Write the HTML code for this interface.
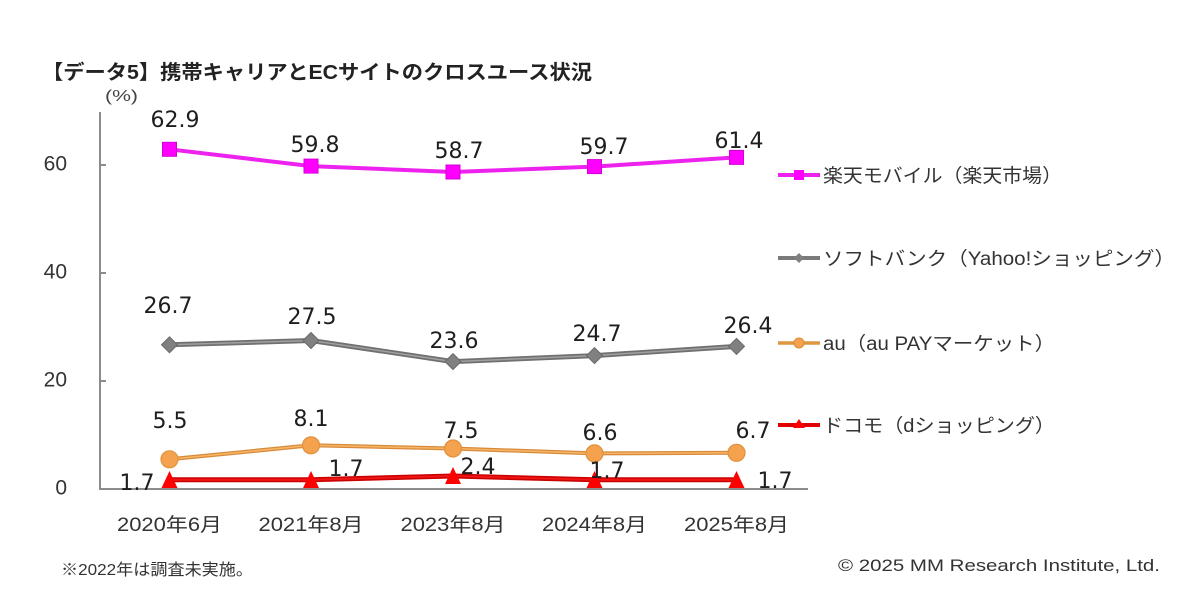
<!DOCTYPE html>
<html>
<head>
<meta charset="utf-8">
<style>
  html, body { margin:0; padding:0; background:#ffffff; }
  body { width:1200px; height:608px; overflow:hidden; }
  svg { display:block; }
</style>
</head>
<body>
<svg width="1200" height="608" viewBox="0 0 1200 608" xmlns="http://www.w3.org/2000/svg">
  <rect x="0" y="0" width="1200" height="608" fill="#ffffff"/>

  <!-- Title -->
  <text x="42" y="79" font-family="'Liberation Sans','Noto Sans CJK JP',sans-serif" font-size="20" font-weight="bold" fill="#222" textLength="550" lengthAdjust="spacingAndGlyphs">【データ5】携帯キャリアとECサイトのクロスユース状況</text>

  <!-- (%) -->
  <text x="105" y="101" font-family="'Liberation Sans','Noto Sans CJK JP',sans-serif" font-size="16" fill="#444" textLength="33" lengthAdjust="spacingAndGlyphs">(%)</text>

  <!-- Axes -->
  <line x1="100" y1="112" x2="100" y2="490" stroke="#8c8c8c" stroke-width="2"/>
  <line x1="99" y1="489" x2="808" y2="489" stroke="#8c8c8c" stroke-width="2"/>
  <line x1="100" y1="165" x2="106" y2="165" stroke="#8c8c8c" stroke-width="2"/>
  <line x1="100" y1="273" x2="106" y2="273" stroke="#8c8c8c" stroke-width="2"/>
  <line x1="100" y1="381" x2="106" y2="381" stroke="#8c8c8c" stroke-width="2"/>

  <!-- Y labels -->
  <g font-family="'Liberation Sans',sans-serif" font-size="21" fill="#333" text-anchor="end">
    <text x="67" y="170.5">60</text>
    <text x="67" y="278.5">40</text>
    <text x="67" y="386.5">20</text>
    <text x="67" y="494.5">0</text>
  </g>

  <!-- X labels -->
  <g font-family="'Liberation Sans','Noto Sans CJK JP',sans-serif" font-size="19" fill="#333" text-anchor="middle">
    <text x="169.5" y="531" textLength="105" lengthAdjust="spacingAndGlyphs">2020年6月</text>
    <text x="311" y="531" textLength="105" lengthAdjust="spacingAndGlyphs">2021年8月</text>
    <text x="453" y="531" textLength="105" lengthAdjust="spacingAndGlyphs">2023年8月</text>
    <text x="594.5" y="531" textLength="105" lengthAdjust="spacingAndGlyphs">2024年8月</text>
    <text x="736.5" y="531" textLength="105" lengthAdjust="spacingAndGlyphs">2025年8月</text>
  </g>

  <!-- Gray series (SoftBank) -->
  <polyline points="169.5,344.8 311,340.5 453,361.6 594.5,355.6 736.5,346.4" fill="none" stroke="#707070" stroke-width="5" stroke-linejoin="round"/>
  <polyline points="169.5,344.8 311,340.5 453,361.6 594.5,355.6 736.5,346.4" fill="none" stroke="#a0a0a0" stroke-width="1.5" stroke-linejoin="round"/>
  <g fill="#808080" stroke="#6a6a6a" stroke-width="1">
    <polygon points="169.5,336.8 177.5,344.8 169.5,352.8 161.5,344.8"/>
    <polygon points="311,332.5 319,340.5 311,348.5 303,340.5"/>
    <polygon points="453,353.6 461,361.6 453,369.6 445,361.6"/>
    <polygon points="594.5,347.6 602.5,355.6 594.5,363.6 586.5,355.6"/>
    <polygon points="736.5,338.4 744.5,346.4 736.5,354.4 728.5,346.4"/>
  </g>

  <!-- Orange series (au) -->
  <polyline points="169.5,459.3 311,445.3 453,448.5 594.5,453.4 736.5,452.8" fill="none" stroke="#d68a3a" stroke-width="4" stroke-linejoin="round"/>
  <polyline points="169.5,459.3 311,445.3 453,448.5 594.5,453.4 736.5,452.8" fill="none" stroke="#f8b566" stroke-width="1.5" stroke-linejoin="round"/>
  <g fill="#f4a24e" stroke="#e0913c" stroke-width="1.2">
    <circle cx="169.5" cy="459.3" r="8.5"/>
    <circle cx="311" cy="445.3" r="8.5"/>
    <circle cx="453" cy="448.5" r="8.5"/>
    <circle cx="594.5" cy="453.4" r="8.5"/>
    <circle cx="736.5" cy="452.8" r="8.5"/>
  </g>

  <!-- Red series (docomo) -->
  <polyline points="169.5,479.8 311,479.8 453,476 594.5,479.8 736.5,479.8" fill="none" stroke="#c80000" stroke-width="5" stroke-linejoin="round"/>
  <polyline points="169.5,479.8 311,479.8 453,476 594.5,479.8 736.5,479.8" fill="none" stroke="#f01515" stroke-width="2" stroke-linejoin="round"/>
  <g fill="#ff0000">
    <polygon points="169.5,471 177.5,488 161.5,488"/>
    <polygon points="311,471 319,488 303,488"/>
    <polygon points="453,467 461,484 445,484"/>
    <polygon points="594.5,471 602.5,488 586.5,488"/>
    <polygon points="736.5,471 744.5,488 728.5,488"/>
  </g>

  <!-- Magenta series (Rakuten) -->
  <polyline points="169.5,149.3 311,166.1 453,172 594.5,166.6 736.5,157.4" fill="none" stroke="#ee22ee" stroke-width="4" stroke-linejoin="round"/>
  <g fill="#ff00ff" stroke="#d400d4" stroke-width="1">
    <rect x="162.5" y="142.3" width="14" height="14"/>
    <rect x="304" y="159.1" width="14" height="14"/>
    <rect x="446" y="165" width="14" height="14"/>
    <rect x="587.5" y="159.6" width="14" height="14"/>
    <rect x="729.5" y="150.4" width="14" height="14"/>
  </g>

  <!-- Data labels -->
  <g font-family="'DejaVu Sans',sans-serif" font-size="22" fill="#1e1e1e" text-anchor="middle">
    <text x="175" y="127">62.9</text>
    <text x="315" y="152">59.8</text>
    <text x="459" y="158">58.7</text>
    <text x="604" y="154">59.7</text>
    <text x="739" y="148">61.4</text>

    <text x="168" y="313">26.7</text>
    <text x="312" y="324">27.5</text>
    <text x="454" y="348">23.6</text>
    <text x="597" y="341">24.7</text>
    <text x="748" y="333">26.4</text>

    <text x="170" y="428">5.5</text>
    <text x="311" y="426">8.1</text>
    <text x="461" y="438">7.5</text>
    <text x="600" y="440">6.6</text>
    <text x="753" y="438">6.7</text>

    <text x="137" y="490">1.7</text>
    <text x="346" y="476">1.7</text>
    <text x="478" y="474">2.4</text>
    <text x="607" y="478">1.7</text>
    <text x="775" y="488">1.7</text>
  </g>

  <!-- Legend -->
  <g>
    <line x1="778" y1="175" x2="820" y2="175" stroke="#ee22ee" stroke-width="4"/>
    <rect x="794" y="170" width="10" height="10" fill="#ff00ff"/>
    <text x="823" y="182" font-family="'Liberation Sans','Noto Sans CJK JP',sans-serif" font-size="19" fill="#333" textLength="239" lengthAdjust="spacingAndGlyphs">楽天モバイル（楽天市場）</text>

    <line x1="778" y1="258" x2="820" y2="258" stroke="#7a7a7a" stroke-width="4"/>
    <polygon points="799,253 804,258 799,263 794,258" fill="#808080"/>
    <text x="823" y="265" font-family="'Liberation Sans','Noto Sans CJK JP',sans-serif" font-size="19" fill="#333" textLength="352" lengthAdjust="spacingAndGlyphs">ソフトバンク（Yahoo!ショッピング）</text>

    <line x1="778" y1="343" x2="820" y2="343" stroke="#e0953f" stroke-width="3.5"/>
    <circle cx="799" cy="343" r="5" fill="#f4a24e" stroke="#e08a30" stroke-width="1"/>
    <text x="823" y="350" font-family="'Liberation Sans','Noto Sans CJK JP',sans-serif" font-size="19" fill="#333" textLength="232" lengthAdjust="spacingAndGlyphs">au（au PAYマーケット）</text>

    <line x1="778" y1="425" x2="820" y2="425" stroke="#e00000" stroke-width="4"/>
    <polygon points="799,419 805,428 793,428" fill="#ff0000"/>
    <text x="823" y="432" font-family="'Liberation Sans','Noto Sans CJK JP',sans-serif" font-size="19" fill="#333" textLength="232" lengthAdjust="spacingAndGlyphs">ドコモ（dショッピング）</text>
  </g>

  <!-- Footnote -->
  <text x="61" y="575" font-family="'Liberation Sans','Noto Sans CJK JP',sans-serif" font-size="16" fill="#333" textLength="192" lengthAdjust="spacingAndGlyphs">※2022年は調査未実施。</text>

  <!-- Copyright -->
  <text x="838" y="571" font-family="'Liberation Sans',sans-serif" font-size="17" fill="#333" textLength="322" lengthAdjust="spacingAndGlyphs">© 2025 MM Research Institute, Ltd.</text>
</svg>
</body>
</html>
